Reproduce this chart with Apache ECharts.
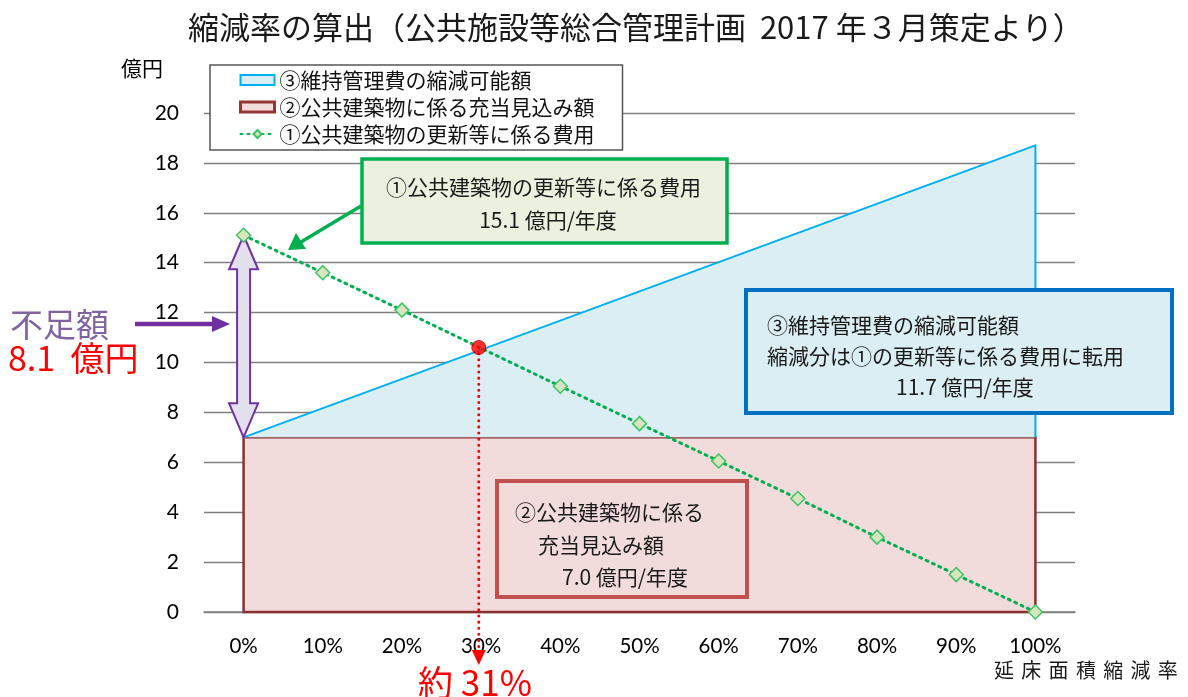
<!DOCTYPE html>
<html><head><meta charset="utf-8">
<script src="https://cdn.jsdelivr.net/npm/echarts@6/dist/echarts.min.js"></script>
<style>html,body{margin:0;padding:0;background:#fff}#c{width:1188px;height:697px}</style>
</head><body><div id="c"></div>
<script>
// ---- data ----
const rateLabels = ['0%','10%','20%','30%','40%','50%','60%','70%','80%','90%','100%'];
const rateValues = [0,10,20,30,40,50,60,70,80,90,100];
const renewalCost = [15.1,13.6,12.1,10.57,9.05,7.55,6.05,4.55,3.0,1.5,0];      // ① 更新等に係る費用
const allocationRates = [0,100];
const allocationValues = [7.0,7.0];                                          // ② 充当見込み額
const maintenanceRates = [0,100];
const maintenanceTop = [7.0,18.7];                                           // ③ 維持管理費の縮減可能額 上端
const crossPoint = [29.7,10.6];                                              // 交点 約31%
const shortage = [7.0,15.1];                                                 // 不足額 8.1 億円

const names = ['③維持管理費の縮減可能額','②公共建築物に係る充当見込み額','①公共建築物の更新等に係る費用'];
const JP = '"Noto Sans CJK JP"';

const chart = echarts.init(document.getElementById('c'), null, {renderer:'canvas'});

function txt(text, x, y, size, color, align){
  return {type:'text', z:110, style:{text:text, x:x, y:y, font:size+'px '+JP, fill:color||'#1a1a1a', align:align||'left', verticalAlign:'middle'}};
}

const axisChars = '延床面積縮減率'.split('');

const option = {
  animation:false,
  backgroundColor:'#fff',
  title:{text:'縮減率の算出（公共施設等総合管理計画  2017 年３月策定より）', left:183, top:7,
    textStyle:{fontFamily:JP, fontSize:31, fontWeight:'normal', color:'#1a1a1a'}},
  grid:{left:204, right:113, top:113, bottom:85},
  legend:{
    orient:'vertical', left:210, top:65, padding:[4,28,5,29], itemGap:5,
    itemWidth:34, itemHeight:10, backgroundColor:'#fff', borderColor:'#555', borderWidth:1.5,
    textStyle:{fontFamily:JP, fontSize:21, color:'#111', lineHeight:22},
    data:[
      {name:names[0], icon:'rect', itemStyle:{color:'#daeef3', borderColor:'#00b0f0', borderWidth:2}},
      {name:names[1], icon:'rect', itemStyle:{color:'#f2dcdb', borderColor:'#943634', borderWidth:3}},
      {name:names[2]}
    ]
  },
  xAxis:[
    {type:'category', data:rateLabels, boundaryGap:true,
     axisTick:{show:false}, axisLine:{lineStyle:{color:'#808080', width:1.5}},
     axisLabel:{fontFamily:'Lato', fontSize:20.5, color:'#000', margin:24}},
    {type:'value', min:-5, max:105, show:false}
  ],
  yAxis:{type:'value', min:0, max:20, interval:2,
    axisLine:{show:false}, axisTick:{show:false},
    axisLabel:{fontFamily:'Lato', fontSize:21, color:'#000', margin:25},
    splitLine:{lineStyle:{color:'#808080', width:1.3}}},
  series:[
    { // ② rectangle
      name:names[1], type:'custom', xAxisIndex:1, z:2,
      itemStyle:{color:'#f2dcdb', borderColor:'#943634'},
      data:[[allocationRates[0], allocationRates[1], allocationValues[0], allocationValues[1]]],
      renderItem:function(params, api){
        const a = api.coord([api.value(0), 0]);
        const b = api.coord([api.value(1), api.value(3)]);
        const c = api.coord([api.value(0), api.value(2)]);
        return {type:'polygon', shape:{points:[a,c,b,[b[0],a[1]]]},
          style:{fill:'#f2dcdb', stroke:'#8b3030', lineWidth:2.5}};
      }
    },
    { // ③ triangle
      name:names[0], type:'custom', xAxisIndex:1, z:3,
      itemStyle:{color:'#daeef3', borderColor:'#00b0f0'},
      data:[[maintenanceRates[0], maintenanceRates[1], maintenanceTop[0], maintenanceTop[1]]],
      renderItem:function(params, api){
        const p0 = api.coord([api.value(0), api.value(2)]);
        const p1 = api.coord([api.value(1), api.value(3)]);
        const p2 = api.coord([api.value(1), api.value(2)]);
        return {type:'group', children:[
          {type:'polygon', shape:{points:[p0,p1,p2]}, style:{fill:'#daeef3', stroke:null}},
          {type:'polyline', shape:{points:[p0,p1,p2]}, style:{stroke:'#00b0f0', lineWidth:2, fill:null}}
        ]};
      }
    },
    { // double arrow 不足額
      type:'custom', xAxisIndex:1, z:5, silent:true,
      data:[[0, shortage[0], shortage[1]]],
      renderItem:function(params, api){
        const top = api.coord([api.value(0), api.value(2)]);
        const bot = api.coord([api.value(0), api.value(1)]);
        const x = top[0], hl = 34, hw = 14.5, sw = 6.5;
        const pts = [[x, top[1]],[x+hw, top[1]+hl],[x+sw, top[1]+hl],[x+sw, bot[1]-hl],[x+hw, bot[1]-hl],
                     [x, bot[1]],[x-hw, bot[1]-hl],[x-sw, bot[1]-hl],[x-sw, top[1]+hl],[x-hw, top[1]+hl]];
        return {type:'polygon', shape:{points:pts}, style:{fill:'#e4dfec', stroke:'#7030a0', lineWidth:2}};
      }
    },
    { // ① line
      name:names[2], type:'line', xAxisIndex:1, z:6,
      data:rateValues.map(function(r,i){
        return r===30 ? {value:[r, renewalCost[i]], symbol:'none'} : [r, renewalCost[i]];
      }),
      symbol:'diamond', symbolSize:14, showAllSymbol:true,
      lineStyle:{color:'#00b050', width:3, type:[2,5], cap:'round'},
      itemStyle:{color:'#d7e4bd', borderColor:'#3cc464', borderWidth:1.5}
    },
    { // red dotted drop line
      type:'custom', xAxisIndex:1, z:7, silent:true, clip:false,
      data:[crossPoint],
      renderItem:function(params, api){
        const p = api.coord([api.value(0), api.value(1)]);
        const b = api.coord([api.value(0), 0]);
        const end = b[1] + 38;
        return {type:'group', children:[
          {type:'line', shape:{x1:p[0], y1:p[1], x2:p[0], y2:end}, style:{stroke:'#ff0000', lineWidth:3, lineDash:[0.1,6], lineCap:'round'}},
          {type:'polygon', shape:{points:[[p[0]-7,end],[p[0]+7,end],[p[0],end+15]]}, style:{fill:'#ff0000'}}
        ]};
      }
    },
    { // cross point
      type:'scatter', xAxisIndex:1, z:8, data:[crossPoint], symbol:'circle', symbolSize:14,
      itemStyle:{color:'#ff0000', borderColor:'#c00000', borderWidth:1}
    }
  ],
  graphic:[
    txt('億円', 121, 68, 21, '#000'),
    // green box
    {type:'rect', z:100, shape:{x:362, y:159, width:365, height:84}, style:{fill:'#ebf1de', stroke:'#00b050', lineWidth:3.5}},
    txt('①公共建築物の更新等に係る費用', 386, 187, 21),
    txt('15.1 億円/年度', 548, 220, 21, '#1a1a1a', 'center'),
    // green arrow
    {type:'line', z:100, shape:{x1:361, y1:206, x2:301, y2:242}, style:{stroke:'#00b050', lineWidth:3.5}},
    {type:'polygon', z:100, shape:{points:[[288,250],[296,233],[306,249]]}, style:{fill:'#00b050'}},
    // blue box
    {type:'rect', z:100, shape:{x:746, y:290, width:426, height:123}, style:{fill:'#daeef3', stroke:'#0070c0', lineWidth:4}},
    txt('③維持管理費の縮減可能額', 767, 325, 21),
    txt('縮減分は①の更新等に係る費用に転用', 767, 356, 21),
    txt('11.7 億円/年度', 896, 387, 21),
    // red box
    {type:'rect', z:100, shape:{x:497, y:481, width:250, height:116}, style:{fill:'#f2dcdb', stroke:'#c0504d', lineWidth:4}},
    txt('②公共建築物に係る', 515, 512, 21),
    txt('充当見込み額', 538, 545, 21),
    txt('7.0 億円/年度', 562, 577, 21),
    // 不足額 annotation
    txt('不足額', 10, 324, 33, '#8064a2'),
    txt('8.1  億円', 8, 358, 34, '#ff0000'),
    {type:'line', z:100, shape:{x1:135, y1:324, x2:214, y2:324}, style:{stroke:'#7030a0', lineWidth:4.5}},
    {type:'polygon', z:100, shape:{points:[[212,316],[230,324],[212,332]]}, style:{fill:'#7030a0'}},
    // 約31%
    txt('約 31%', 418, 683, 35, '#ff0000'),
  ].concat(axisChars.map(function(ch, i){ return txt(ch, 1004 + i*27.3, 670, 20, '#1a1a1a', 'center'); }))
};
chart.setOption(option);
</script>
</body></html>
